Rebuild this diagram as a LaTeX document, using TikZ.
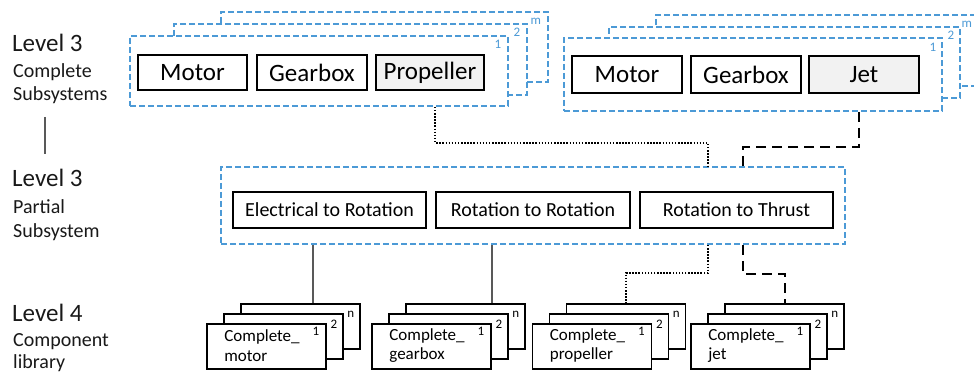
\documentclass[tikz,border=0pt]{standalone}
\usepackage{fontspec}
\setmainfont{Carlito}
\definecolor{blueC}{HTML}{4C9AD6}
\definecolor{grayF}{HTML}{F2F2F2}
\definecolor{lineG}{HTML}{595959}
\begin{document}
\begin{tikzpicture}[x=1pt,y=-1pt,
  frame/.style={draw=blueC, line width=1.8pt, dash pattern=on 6pt off 3pt, fill=white, inner sep=0pt},
  box/.style={draw=black, line width=2pt, fill=white, inner sep=0pt, font=\fontsize{25}{29}\selectfont},
  gbox/.style={box, fill=grayF},
  mbox/.style={draw=black, line width=2pt, fill=white, inner sep=0pt, minimum height=36pt, font=\fontsize{20}{24}\selectfont},
  cbox/.style={draw=black, line width=1.6pt, fill=white, inner sep=0pt, minimum width=119pt, minimum height=45pt},
  ctext/.style={anchor=west, align=left, inner sep=0pt, font=\fontsize{17}{19.5}\selectfont},
  num/.style={inner sep=0pt, font=\fontsize{13}{14}\selectfont},
  bnum/.style={num, text=blueC},
  lvl/.style={anchor=base west, inner sep=0pt, font=\fontsize{25}{29}\selectfont, text=black!90},
  sub/.style={anchor=base west, inner sep=0pt, font=\fontsize{20}{23}\selectfont, text=black!90},
  dotconn/.style={draw=black, line width=2.2pt, dash pattern=on 1.5pt off 1.6pt},
  dashconn/.style={draw=black, line width=2pt, dash pattern=on 10pt off 6pt},
  solidconn/.style={draw=lineG, line width=1.2pt}]
\useasboundingbox (0,0) rectangle (974,374);
\clip (0,0) rectangle (974,374);

% left labels
\node[lvl] (l1) at (12,52) {Level 3};
\node[sub] (l1a) at (13,78) {Complete};
\node[sub] (l1b) at (13,101) {Subsystems};
\node[lvl] (l2) at (12,187) {Level 3};
\node[sub] (l2a) at (13,213) {Partial};
\node[sub] (l2b) at (13,237) {Subsystem};
\node[lvl] (l3) at (12,321) {Level 4};
\node[sub] (l3a) at (13,346) {Component};
\node[sub] (l3b) at (13,368) {library};
\coordinate (v1) at (45,117);
\coordinate (v2) at (45,154);
\draw[solidconn] (v1) -- (v2);

% top left stack
\node[frame, minimum width=327pt, minimum height=70pt] (fLm) at (384.5,47) {};
\node[frame, minimum width=353pt, minimum height=71pt] (fL2) at (350.5,59.5) {};
\node[frame, minimum width=378pt, minimum height=70pt] (fL1) at (319,71) {};
\node[bnum] at ([xshift=-13pt,yshift=-10pt]fLm.north east) {m};
\node[bnum] at ([xshift=-11pt,yshift=-9pt]fL2.north east) {2};
\node[bnum] at ([xshift=-11pt,yshift=-9pt]fL1.north east) {1};
\node[box, minimum width=109pt, minimum height=35pt] (motL) at (192.5,72.5) {Motor};
\node[box, minimum width=110pt, minimum height=35pt] (gearL) at (312,72.5) {Gearbox};
\node[gbox, minimum width=108pt, minimum height=35pt] (prop) at (430,72.5) {Propeller};

% top right stack
\node[frame, minimum width=327pt, minimum height=71pt] (fRm) at (819.5,50.5) {};
\node[frame, minimum width=351pt, minimum height=71pt] (fR2) at (784.5,62.5) {};
\node[frame, minimum width=378pt, minimum height=73pt] (fR1) at (753,74.5) {};
\node[bnum] at ([xshift=-17pt,yshift=-10pt]fRm.north east) {m};
\node[bnum] at ([xshift=-10pt,yshift=-9pt]fR2.north east) {2};
\node[bnum] at ([xshift=-10pt,yshift=-10pt]fR1.north east) {1};
\node[box, minimum width=110pt, minimum height=37pt] (motR) at (627,74.5) {Motor};
\node[box, minimum width=110pt, minimum height=37pt] (gearR) at (746,74.5) {Gearbox};
\node[gbox, minimum width=110pt, minimum height=37pt] (jet) at (864,74.5) {Jet};

% middle frame
\node[frame, minimum width=624pt, minimum height=77pt] (mid) at (533,205.5) {};
\node[mbox, minimum width=193pt] (e2r) at (329.5,210) {Electrical to Rotation};
\node[mbox, minimum width=194pt] (r2r) at (533,210) {Rotation to Rotation};
\node[mbox, minimum width=193pt] (r2t) at (736.5,210) {Rotation to Thrust};

% bottom stacks
\foreach \n/\x/\t in {cm/266.5/motor, cg/431.5/gearbox, cp/592/propeller, cj/750.5/jet}{
  \node[cbox] (\n3) at (\x+34,326.5) {};
  \node[cbox] (\n2) at (\x+17,336.5) {};
  \node[cbox] (\n1) at (\x,346.5) {};
  \node[num] at ([xshift=-10pt,yshift=-11pt]\n3.north east) {n};
  \node[num] at ([xshift=-10pt,yshift=-11pt]\n2.north east) {2};
  \node[num] at ([xshift=-11pt,yshift=-8pt]\n1.north east) {1};
  \node[ctext] at ([xshift=18pt,yshift=1pt]\n1.west) {Complete\_\\\t};
}

% connectors
\draw[dotconn] ([xshift=116pt]fL1.south) -- ++(0,36) -| ([xshift=175pt]mid.north);
\draw[dashconn] ([xshift=106pt]fR1.south) -- ++(0,35) -| ([xshift=210pt]mid.north);
\draw[solidconn] ([xshift=12.5pt]cm3.north) -- ([xshift=12.5pt]cm3.north |- mid.south);
\draw[solidconn] ([xshift=26.5pt]cg3.north) -- ([xshift=26.5pt]cg3.north |- mid.south);
\draw[dotconn] ([xshift=175pt]mid.south) -- ++(0,28) -| (cp3.north);
\draw[dashconn] ([xshift=210pt]mid.south) -- ++(0,29) -| (cj3.north);
\end{tikzpicture}
\end{document}
